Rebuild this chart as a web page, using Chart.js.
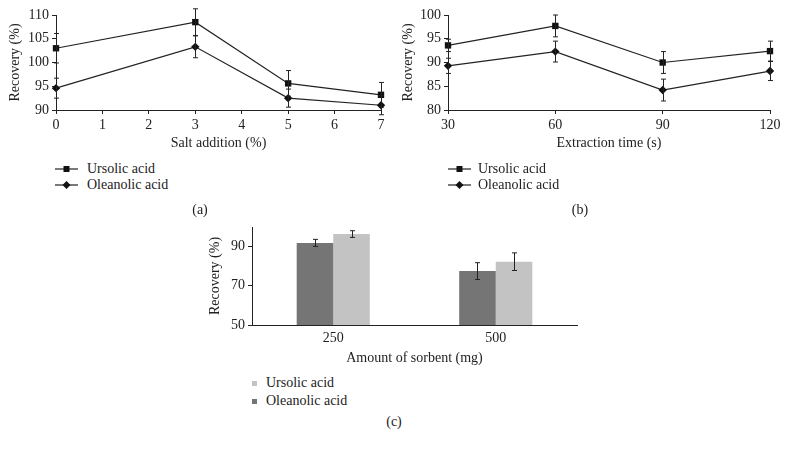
<!DOCTYPE html>
<html lang="en">
<head>
<meta charset="utf-8">
<title>Recovery of ursolic and oleanolic acid</title>
<script src="https://cdn.jsdelivr.net/npm/chart.js"></script>
<style>
    body, html {
        margin: 0;
        background: #fff;
        font-family: "Liberation Serif", "DejaVu Serif", serif;
        color: #222;
    }
    #page {
        position: relative;
        width: 788px;
        height: 449px;
        overflow: hidden;
    }
    .box { position: absolute; }
    .txt {
        position: absolute;
        font-size: 14px;
        line-height: 16px;
        white-space: nowrap;
    }
    .cap {
        position: absolute;
        font-size: 14px;
        transform: translateX(-50%);
    }
    .sq {
        position: absolute;
        width: 5px;
        height: 5px;
    }
</style>
</head>
<body>
<div id="page">
    <div class="box" style="left:0px;top:0px;width:395px;height:156px"><canvas id="chartA"></canvas></div>
    <div class="box" style="left:393px;top:0px;width:392px;height:156px"><canvas id="chartB"></canvas></div>
    <div class="box" style="left:200px;top:212px;width:390px;height:159px"><canvas id="chartC"></canvas></div>

    <!-- legends (a) -->
    <svg class="box" style="left:54px;top:161px" width="26" height="32">
        <line x1="1" y1="8" x2="24" y2="8" stroke="#222" stroke-width="1.2"/>
        <rect x="9.5" y="5" width="6" height="6" fill="#111"/>
        <line x1="1" y1="24" x2="24" y2="24" stroke="#222" stroke-width="1.2"/>
        <polygon points="12.5,20 16.5,24 12.5,28 8.5,24" fill="#111"/>
    </svg>
    <div class="txt" style="left:87px;top:161px">Ursolic acid</div>
    <div class="txt" style="left:87px;top:177px">Oleanolic acid</div>
    <div class="cap" style="left:200px;top:202px">(a)</div>

    <!-- legends (b) -->
    <svg class="box" style="left:447px;top:161px" width="26" height="32">
        <line x1="1" y1="8" x2="24" y2="8" stroke="#222" stroke-width="1.2"/>
        <rect x="9.5" y="5" width="6" height="6" fill="#111"/>
        <line x1="1" y1="24" x2="24" y2="24" stroke="#222" stroke-width="1.2"/>
        <polygon points="12.5,20 16.5,24 12.5,28 8.5,24" fill="#111"/>
    </svg>
    <div class="txt" style="left:478px;top:161px">Ursolic acid</div>
    <div class="txt" style="left:478px;top:177px">Oleanolic acid</div>
    <div class="cap" style="left:580px;top:202px">(b)</div>

    <!-- legends (c) -->
    <div class="sq" style="left:252px;top:381px;background:#c3c3c3"></div>
    <div class="txt" style="left:266px;top:375px">Ursolic acid</div>
    <div class="sq" style="left:252px;top:399px;background:#757575"></div>
    <div class="txt" style="left:266px;top:393px">Oleanolic acid</div>
    <div class="cap" style="left:394px;top:414px">(c)</div>
</div>

<script>
    // (a) salt addition
    const saltX = [0, 3, 5, 7]
    const saltUrsolic = [103.0, 108.5, 95.6, 93.2]
    const saltUrsolicErr = [3.1, 2.8, 2.7, 2.6]
    const saltOleanolic = [94.6, 103.3, 92.5, 91.0]
    const saltOleanolicErr = [2.1, 2.3, 1.9, 2.0]

    // (b) extraction time
    const timeX = [30, 60, 90, 120]
    const timeUrsolic = [93.6, 97.7, 90.0, 92.4]
    const timeUrsolicErr = [1.3, 2.3, 2.3, 2.1]
    const timeOleanolic = [89.3, 92.3, 84.2, 88.2]
    const timeOleanolicErr = [1.6, 2.2, 2.3, 2.0]

    // (c) amount of sorbent
    const sorbentLabels = ['250', '500']
    const sorbentOleanolic = [91.9, 77.5]
    const sorbentOleanolicErr = [1.8, 4.3]
    const sorbentUrsolic = [96.4, 82.3]
    const sorbentUrsolicErr = [1.7, 4.5]
    const sorbentTicks = [50, 70, 90]

    const ink = '#222'
    const font = {family: '"Liberation Serif", "DejaVu Serif", serif', size: 14}

    Chart.defaults.font = font
    Chart.defaults.color = ink
    Chart.defaults.animation = false

    // draws vertical error bars from the "errors" array of each dataset
    const errorBars = {
        id: 'errorBars',
        afterDatasetsDraw(chart) {
            const ctx = chart.ctx
            const yScale = chart.scales.y
            chart.data.datasets.forEach((ds, i) => {
                if (!ds.errors) return
                const meta = chart.getDatasetMeta(i)
                meta.data.forEach((el, j) => {
                    const raw = ds.data[j]
                    const v = typeof raw === 'object' ? raw.y : raw
                    const e = ds.errors[j]
                    const top = yScale.getPixelForValue(v + e)
                    const bot = yScale.getPixelForValue(v - e)
                    const x = Math.round(el.x) + 0.5
                    ctx.save()
                    ctx.strokeStyle = ink
                    ctx.lineWidth = 1
                    ctx.beginPath()
                    ctx.moveTo(x, top)
                    ctx.lineTo(x, bot)
                    ctx.moveTo(x - 2.5, top)
                    ctx.lineTo(x + 2.5, top)
                    ctx.moveTo(x - 2.5, bot)
                    ctx.lineTo(x + 2.5, bot)
                    ctx.stroke()
                    ctx.restore()
                })
            })
        }
    }

    function pts(xs, ys) {
        return xs.map((x, i) => ({x: x, y: ys[i]}))
    }

    function lineSet(label, data, errors, style, r) {
        return {
            label: label,
            data: data,
            errors: errors,
            borderColor: ink,
            backgroundColor: '#111',
            borderWidth: 1.2,
            pointStyle: style,
            pointRadius: r,
            pointBorderWidth: 0,
            tension: 0,
            clip: false
        }
    }

    function axisY(min, max, step, yWidth, extra) {
        return Object.assign({
            min: min,
            max: max,
            ticks: {stepSize: step, padding: 3, font: font, color: ink},
            grid: {display: true, drawOnChartArea: false, tickLength: 4, color: ink},
            border: {display: true, color: ink, width: 1},
            title: {display: true, text: 'Recovery (%)', font: font, color: ink, padding: {top: 7, bottom: 0}},
            afterFit: s => { s.width = yWidth }
        }, extra || {})
    }

    function lineChart(id, xs, u, uErr, o, oErr, xmin, xmax, xstep, ymin, ymax, xTitle, yWidth, padRight) {
        return new Chart(document.getElementById(id), {
            type: 'line',
            data: {
                datasets: [
                    lineSet('Ursolic acid', pts(xs, u), uErr, 'rect', 4.5),
                    lineSet('Oleanolic acid', pts(xs, o), oErr, 'rectRot', 4.2)
                ]
            },
            options: {
                responsive: true,
                maintainAspectRatio: false,
                layout: {padding: {top: 15, right: padRight, left: 0, bottom: 0}},
                plugins: {legend: {display: false}, tooltip: {enabled: false}},
                scales: {
                    x: {
                        type: 'linear',
                        min: xmin,
                        max: xmax,
                        ticks: {stepSize: xstep, padding: 3, font: font, color: ink},
                        grid: {display: true, drawOnChartArea: false, tickLength: 4, color: ink},
                        border: {display: true, color: ink, width: 1},
                        title: {display: true, text: xTitle, font: font, color: ink},
                        afterFit: s => { s.height = 46 }
                    },
                    y: axisY(ymin, ymax, 5, yWidth)
                }
            },
            plugins: [errorBars]
        })
    }

    lineChart('chartA', saltX, saltUrsolic, saltUrsolicErr, saltOleanolic, saltOleanolicErr,
        0, 7, 1, 90, 110, 'Salt addition (%)', 56, 14)
    lineChart('chartB', timeX, timeUrsolic, timeUrsolicErr, timeOleanolic, timeOleanolicErr,
        30, 120, 30, 80, 100, 'Extraction time (s)', 55, 15)

    new Chart(document.getElementById('chartC'), {
        type: 'bar',
        data: {
            labels: sorbentLabels,
            datasets: [
                {label: 'Oleanolic acid', data: sorbentOleanolic, errors: sorbentOleanolicErr, backgroundColor: '#757575'},
                {label: 'Ursolic acid', data: sorbentUrsolic, errors: sorbentUrsolicErr, backgroundColor: '#c3c3c3'}
            ]
        },
        options: {
            responsive: true,
            maintainAspectRatio: false,
            categoryPercentage: 0.45,
            barPercentage: 1,
            layout: {padding: {top: 15, right: 13, left: 0, bottom: 0}},
            plugins: {legend: {display: false}, tooltip: {enabled: false}},
            scales: {
                x: {
                    ticks: {padding: 5, font: font, color: ink},
                    grid: {display: false, drawTicks: false, tickLength: 0},
                    border: {display: true, color: ink, width: 1},
                    title: {display: true, text: 'Amount of sorbent (mg)', font: font, color: ink},
                    afterFit: s => { s.height = 46 }
                },
                y: axisY(50, 100, 20, 52, {
                    afterBuildTicks: s => { s.ticks = sorbentTicks.map(v => ({value: v})) }
                })
            }
        },
        plugins: [errorBars]
    })
</script>
</body>
</html>
